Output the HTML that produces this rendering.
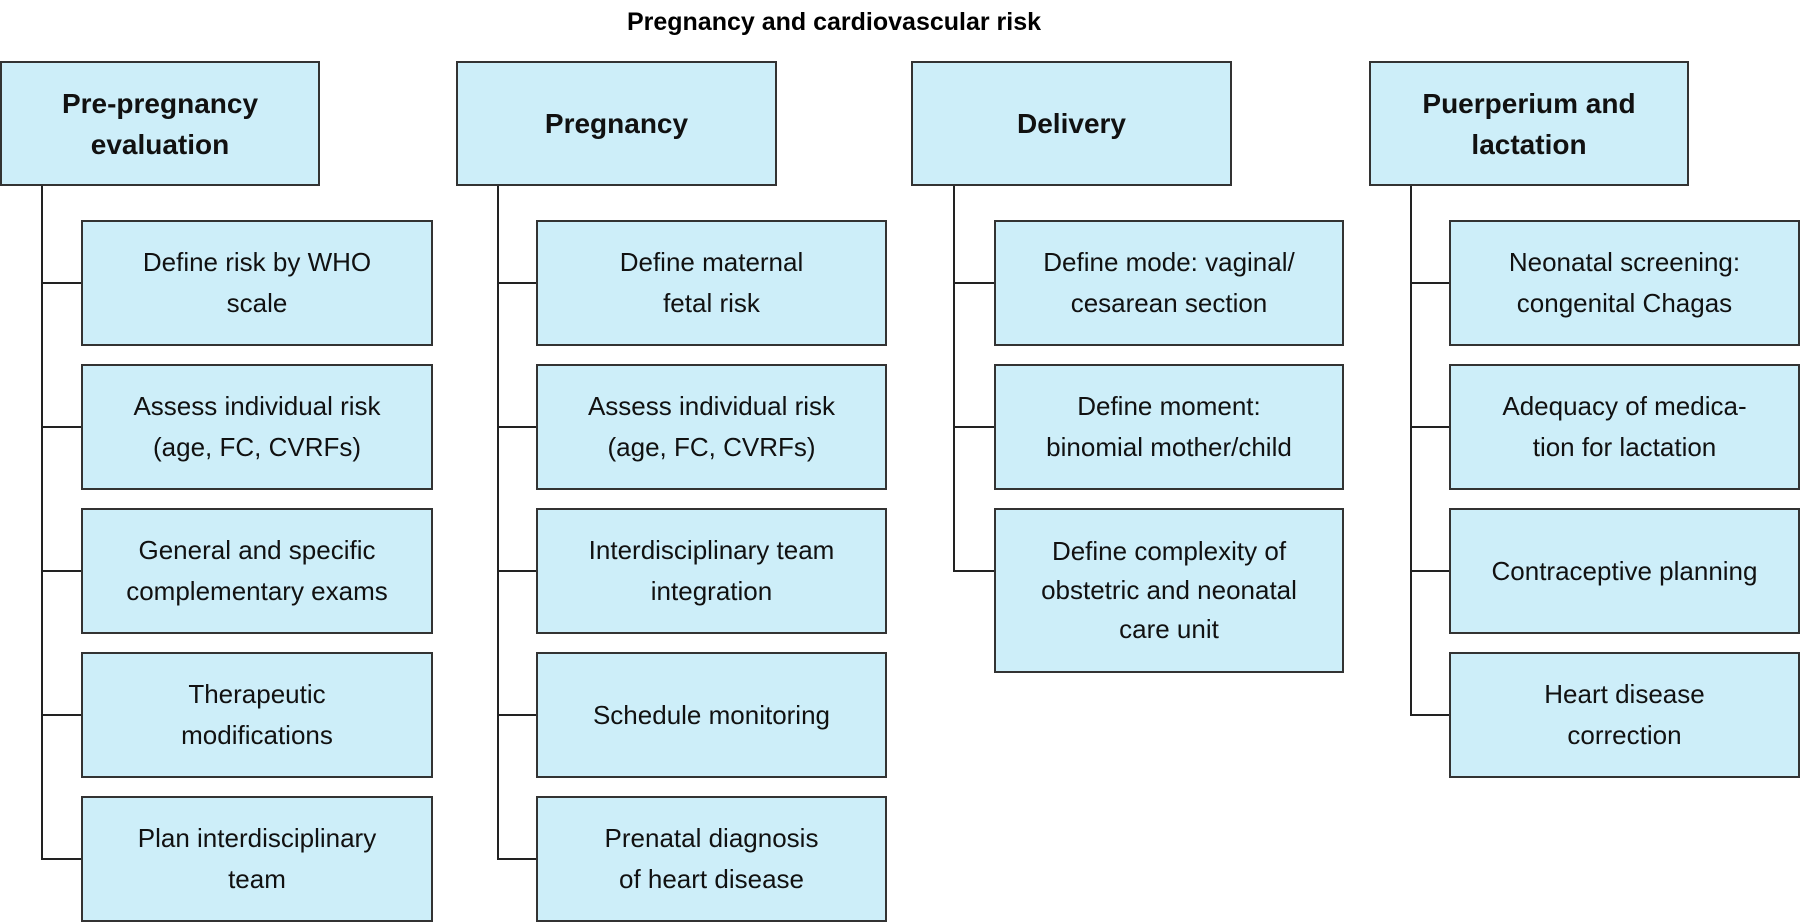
<!DOCTYPE html>
<html><head><style>
body{margin:0;width:1800px;height:923px;background:#fff;position:relative;font-family:"Liberation Sans",Arial,sans-serif;overflow:hidden}
.b{position:absolute;background:#cdeef9;border:2px solid #333;box-sizing:border-box;display:flex;align-items:center;justify-content:center;text-align:center;font-size:26px;line-height:41px;color:#111}
.h{font-weight:bold;font-size:28px;line-height:41px}
.l{position:absolute;background:#222}
.t{position:absolute;top:8px;left:0;width:1668px;text-align:center;font-weight:bold;font-size:25px}
</style></head><body>
<div class="t">Pregnancy and cardiovascular risk</div>

<div class="b h" style="left:0;top:61px;width:320px;height:125px">Pre-pregnancy<br>evaluation</div>
<div class="b h" style="left:456px;top:61px;width:321px;height:125px">Pregnancy</div>
<div class="b h" style="left:911px;top:61px;width:321px;height:125px">Delivery</div>
<div class="b h" style="left:1369px;top:61px;width:320px;height:125px">Puerperium and<br>lactation</div>

<div class="l" style="left:41px;top:186px;width:2px;height:673px"></div>
<div class="l" style="left:497px;top:186px;width:2px;height:673px"></div>
<div class="l" style="left:953px;top:186px;width:2px;height:385px"></div>
<div class="l" style="left:1410px;top:186px;width:2px;height:529px"></div>

<div class="l" style="left:41px;top:282px;width:41px;height:2px"></div>
<div class="l" style="left:41px;top:426px;width:41px;height:2px"></div>
<div class="l" style="left:41px;top:570px;width:41px;height:2px"></div>
<div class="l" style="left:41px;top:714px;width:41px;height:2px"></div>
<div class="l" style="left:41px;top:858px;width:41px;height:2px"></div>

<div class="l" style="left:497px;top:282px;width:40px;height:2px"></div>
<div class="l" style="left:497px;top:426px;width:40px;height:2px"></div>
<div class="l" style="left:497px;top:570px;width:40px;height:2px"></div>
<div class="l" style="left:497px;top:714px;width:40px;height:2px"></div>
<div class="l" style="left:497px;top:858px;width:40px;height:2px"></div>

<div class="l" style="left:953px;top:282px;width:42px;height:2px"></div>
<div class="l" style="left:953px;top:426px;width:42px;height:2px"></div>
<div class="l" style="left:953px;top:570px;width:42px;height:2px"></div>

<div class="l" style="left:1410px;top:282px;width:40px;height:2px"></div>
<div class="l" style="left:1410px;top:426px;width:40px;height:2px"></div>
<div class="l" style="left:1410px;top:570px;width:40px;height:2px"></div>
<div class="l" style="left:1410px;top:714px;width:40px;height:2px"></div>

<div class="b" style="left:81px;top:220px;width:352px;height:126px">Define risk by WHO<br>scale</div>
<div class="b" style="left:81px;top:364px;width:352px;height:126px">Assess individual risk<br>(age, FC, CVRFs)</div>
<div class="b" style="left:81px;top:508px;width:352px;height:126px">General and specific<br>complementary exams</div>
<div class="b" style="left:81px;top:652px;width:352px;height:126px">Therapeutic<br>modifications</div>
<div class="b" style="left:81px;top:796px;width:352px;height:126px">Plan interdisciplinary<br>team</div>

<div class="b" style="left:536px;top:220px;width:351px;height:126px">Define maternal<br>fetal risk</div>
<div class="b" style="left:536px;top:364px;width:351px;height:126px">Assess individual risk<br>(age, FC, CVRFs)</div>
<div class="b" style="left:536px;top:508px;width:351px;height:126px">Interdisciplinary team<br>integration</div>
<div class="b" style="left:536px;top:652px;width:351px;height:126px">Schedule monitoring</div>
<div class="b" style="left:536px;top:796px;width:351px;height:126px">Prenatal diagnosis<br>of heart disease</div>

<div class="b" style="left:994px;top:220px;width:350px;height:126px">Define mode: vaginal/<br>cesarean section</div>
<div class="b" style="left:994px;top:364px;width:350px;height:126px">Define moment:<br>binomial mother/child</div>
<div class="b" style="left:994px;top:508px;width:350px;height:165px;line-height:39px">Define complexity of<br>obstetric and neonatal<br>care unit</div>

<div class="b" style="left:1449px;top:220px;width:351px;height:126px">Neonatal screening:<br>congenital Chagas</div>
<div class="b" style="left:1449px;top:364px;width:351px;height:126px">Adequacy of medica-<br>tion for lactation</div>
<div class="b" style="left:1449px;top:508px;width:351px;height:126px">Contraceptive planning</div>
<div class="b" style="left:1449px;top:652px;width:351px;height:126px">Heart disease<br>correction</div>
</body></html>
